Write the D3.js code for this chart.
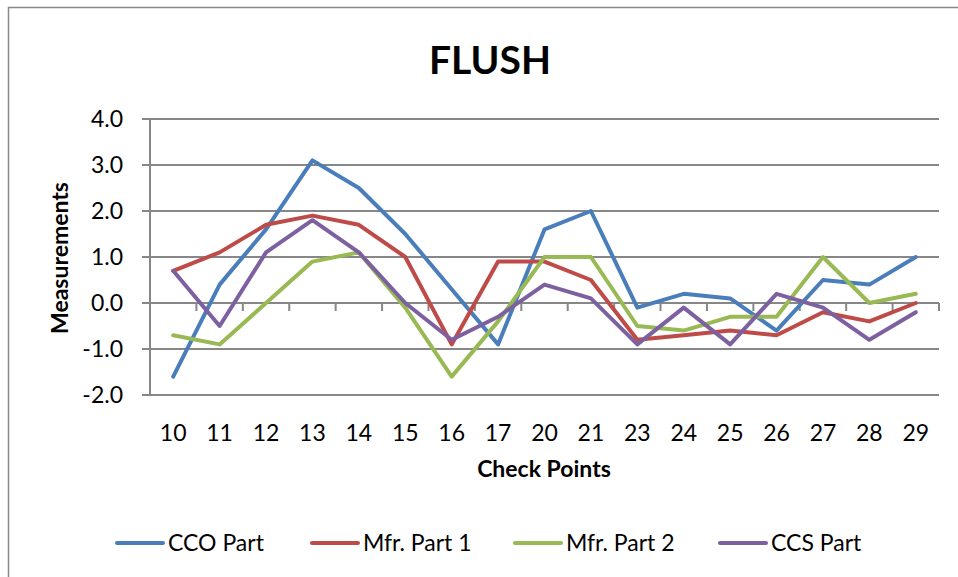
<!DOCTYPE html>
<html>
<head>
<meta charset="utf-8">
<script src="https://cdn.jsdelivr.net/npm/d3@7"></script>
<style>
  body { margin: 0; background: #fff; }
  svg { display: block; font-family: Lato, "Open Sans", sans-serif; }
</style>
</head>
<body>
<div id="chart"></div>
<script>
// Check points on the x axis
const checkPoints = ["10", "11", "12", "13", "14", "15", "16", "17", "20", "21", "23", "24", "25", "26", "27", "28", "29"];

// Series values
const ccoPart  = [-1.6, 0.4, 1.6, 3.1, 2.5, 1.5, 0.3, -0.9, 1.6, 2.0, -0.1, 0.2, 0.1, -0.6, 0.5, 0.4, 1.0];
const mfrPart1 = [0.7, 1.1, 1.7, 1.9, 1.7, 1.0, -0.9, 0.9, 0.9, 0.5, -0.8, -0.7, -0.6, -0.7, -0.2, -0.4, 0.0];
const mfrPart2 = [-0.7, -0.9, 0.0, 0.9, 1.1, -0.1, -1.6, -0.4, 1.0, 1.0, -0.5, -0.6, -0.3, -0.3, 1.0, 0.0, 0.2];
const ccsPart  = [0.7, -0.5, 1.1, 1.8, 1.1, 0.0, -0.8, -0.3, 0.4, 0.1, -0.9, -0.1, -0.9, 0.2, -0.1, -0.8, -0.2];

const yTicks = [-2, -1, 0, 1, 2, 3, 4];

const series = [
  { name: "CCO Part", values: ccoPart, color: "#4A7EBB" },
  { name: "Mfr. Part 1", values: mfrPart1, color: "#BE4B48" },
  { name: "Mfr. Part 2", values: mfrPart2, color: "#98B954" },
  { name: "CCS Part", values: ccsPart, color: "#7D60A0" }
];

const width = 958, height = 577;
const margin = { top: 119, left: 150, right: 19, bottom: 182 };
const innerWidth = width - margin.left - margin.right;
const innerHeight = height - margin.top - margin.bottom;
const FONT = 23;

const svg = d3.select("#chart")
  .append("svg")
    .attr("width", width)
    .attr("height", height);

// outer chart border (runs off the right and bottom edges like the reference)
svg.append("path")
  .attr("d", `M8.5,${height} V7.5 H${width}`)
  .attr("fill", "none")
  .attr("stroke", "#898989")
  .attr("stroke-width", 1.5);

const innerChart = svg.append("g")
  .attr("transform", `translate(${margin.left}, ${margin.top})`);

// Scales
const xScale = d3.scaleBand()
  .domain(checkPoints)
  .range([0, innerWidth]);
const yScale = d3.scaleLinear()
  .domain([-2, 4])
  .range([innerHeight, 0]);

// Gridlines
innerChart.selectAll(".grid")
  .data(yTicks)
  .enter()
  .append("line")
    .attr("class", "grid")
    .attr("x1", -8)
    .attr("x2", innerWidth)
    .attr("y1", d => yScale(d))
    .attr("y2", d => yScale(d))
    .attr("stroke", "#878787")
    .attr("stroke-width", 2);

// Y axis line
innerChart.append("line")
  .attr("x1", 0).attr("x2", 0)
  .attr("y1", 0).attr("y2", innerHeight)
  .attr("stroke", "#878787")
  .attr("stroke-width", 2);

// Y tick labels (plain hyphen for negatives)
innerChart.selectAll(".ylab")
  .data(yTicks)
  .enter()
  .append("text")
    .attr("class", "ylab")
    .attr("x", -27)
    .attr("y", d => yScale(d))
    .attr("dy", "0.35em")
    .attr("text-anchor", "end")
    .attr("font-size", FONT)
    .attr("fill", "#000")
    .text(d => d3.format(".1f")(d).replace("\u2212", "-"));

// X axis at zero with tick marks between categories
const boundaries = checkPoints.map((c, i) => i === 0 ? 0 : xScale(c)).concat([innerWidth]);
innerChart.selectAll(".xtick")
  .data(boundaries)
  .enter()
  .append("line")
    .attr("class", "xtick")
    .attr("x1", d => d).attr("x2", d => d)
    .attr("y1", yScale(0)).attr("y2", yScale(0) + 8)
    .attr("stroke", "#878787")
    .attr("stroke-width", 2);

// X tick labels below the plot
innerChart.selectAll(".xlab")
  .data(checkPoints)
  .enter()
  .append("text")
    .attr("class", "xlab")
    .attr("x", d => xScale(d) + xScale.bandwidth() / 2)
    .attr("y", innerHeight + 46)
    .attr("text-anchor", "middle")
    .attr("font-size", FONT)
    .attr("fill", "#000")
    .text(d => d);

// Lines
const line = d3.line()
  .x((d, i) => xScale(checkPoints[i]) + xScale.bandwidth() / 2)
  .y(d => yScale(d));

innerChart.selectAll(".series")
  .data(series)
  .enter()
  .append("path")
    .attr("class", "series")
    .attr("d", d => line(d.values))
    .attr("fill", "none")
    .attr("stroke", d => d.color)
    .attr("stroke-width", 4)
    .attr("stroke-linejoin", "round")
    .attr("stroke-linecap", "round");

// Title and axis titles
svg.append("text")
  .attr("x", 490).attr("y", 74)
  .attr("text-anchor", "middle")
  .attr("font-size", 39)
  .attr("font-weight", "bold")
  .text("FLUSH");

svg.append("text")
  .attr("x", 544).attr("y", 477)
  .attr("text-anchor", "middle")
  .attr("font-size", FONT)
  .attr("font-weight", "bold")
  .text("Check Points");

svg.append("text")
  .attr("transform", "translate(68, 258) rotate(-90)")
  .attr("text-anchor", "middle")
  .attr("font-size", FONT)
  .attr("font-weight", "bold")
  .text("Measurements");

// Legend
const legendX = [117, 312, 515, 720];
const legend = svg.selectAll(".legend")
  .data(series)
  .enter()
  .append("g")
    .attr("class", "legend")
    .attr("transform", (d, i) => `translate(${legendX[i]}, 543)`);

legend.append("line")
  .attr("x1", 0).attr("x2", 46)
  .attr("stroke", d => d.color)
  .attr("stroke-width", 4)
  .attr("stroke-linecap", "round");

legend.append("text")
  .attr("x", 51)
  .attr("dy", "0.35em")
  .attr("font-size", FONT)
  .text(d => d.name);
</script>
</body>
</html>
